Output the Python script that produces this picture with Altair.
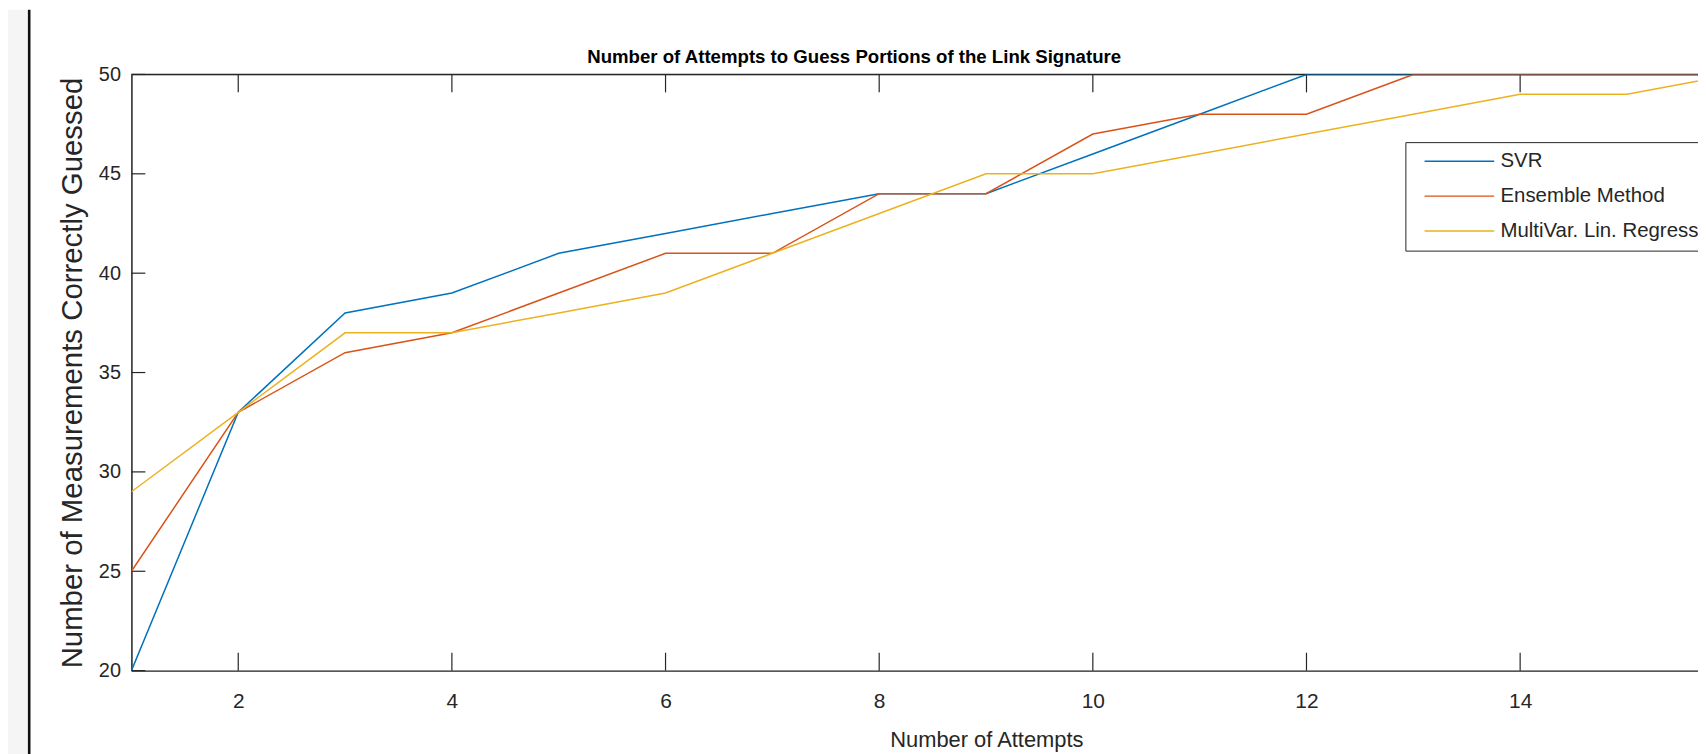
import altair as alt
import pandas as pd

# ---- data ----
attempts = list(range(1, 17))
svr = [20, 33, 38, 39, 41, 42, 43, 44, 44, 46, 48, 50, 50, 50, 50, 50]
ensemble = [25, 33, 36, 37, 39, 41, 41, 44, 44, 47, 48, 48, 50, 50, 50, 50]
mlr = [29, 33, 37, 37, 38, 39, 41, 43, 45, 45, 46, 47, 48, 49, 49, 50]
methods = ["SVR", "Ensemble Method", "MultiVar. Lin. Regression"]
colors = ["#0072BD", "#D95319", "#EDB120"]
x_ticks = [2, 4, 6, 8, 10, 12, 14]
y_ticks = [20, 25, 30, 35, 40, 45, 50]
x_domain = [1, 15.665]
y_domain = [20, 50]

W, H = 1574, 599
AX = "#262626"
FONT = "Liberation Sans"

rows = []
for name, vals in zip(methods, [svr, ensemble, mlr]):
    for a, v in zip(attempts, vals):
        rows.append({"Attempt": a, "Value": v, "Method": name})
df = pd.DataFrame(rows)

xs = alt.Scale(domain=x_domain, nice=False, zero=False)
ys = alt.Scale(domain=y_domain, nice=False, zero=False)

lines = alt.Chart(df).mark_line(strokeWidth=1.5, clip=True).encode(
    x=alt.X("Attempt:Q", scale=xs, axis=alt.Axis(
        values=x_ticks, format="d", ticks=False, tickSize=0, grid=False,
        domainColor=AX, domainWidth=1.5,
        labelFont=FONT, labelFontSize=21, labelColor=AX, labelPadding=20,
        title="Number of Attempts", titleFont=FONT, titleFontSize=22,
        titleFontWeight="normal", titleColor=AX, titleX=859, titleY=76,
        titleAlign="center", titleBaseline="alphabetic")),
    y=alt.Y("Value:Q", scale=ys, axis=alt.Axis(
        values=y_ticks, format="d", ticks=False, tickSize=0, grid=False,
        domainColor=AX, domainWidth=1.5,
        labelFont=FONT, labelFontSize=20, labelColor=AX, labelPadding=11,
        title="Number of Measurements Correctly Guessed", titleFont=FONT,
        titleFontSize=29.5, titleFontWeight="normal", titleColor=AX,
        titleX=-59, titleY=H / 2, titleAngle=270, titleAlign="center",
        titleBaseline="middle")),
    color=alt.Color("Method:N", scale=alt.Scale(domain=methods, range=colors),
                    legend=alt.Legend(
                        title=None, orient="none", legendX=1280, legendY=68,
                        symbolType="M0,0H14", symbolSize=100, symbolStrokeWidth=1.5,
                        labelFont=FONT, labelFontSize=20.5, labelColor=AX,
                        labelOffset=66, labelLimit=500, rowPadding=14, padding=9,
                        strokeColor=AX, fillColor="white")),
)

xt = pd.DataFrame({"Attempt": x_ticks})
yt = pd.DataFrame({"Value": y_ticks})

bottom_ticks = alt.Chart(xt).mark_rule(color=AX, strokeWidth=1.2).encode(
    x=alt.X("Attempt:Q", scale=xs), y=alt.value(H - 18), y2=alt.value(H))
top_ticks = alt.Chart(xt).mark_rule(color=AX, strokeWidth=1.2).encode(
    x=alt.X("Attempt:Q", scale=xs), y=alt.value(0), y2=alt.value(18))
left_ticks = alt.Chart(yt).mark_rule(color=AX, strokeWidth=1.2).encode(
    y=alt.Y("Value:Q", scale=ys), x=alt.value(0), x2=alt.value(14))
top_border = alt.Chart(pd.DataFrame({"Value": [y_domain[1]]})).mark_rule(
    color=AX, strokeWidth=1.5).encode(
    y=alt.Y("Value:Q", scale=ys), x=alt.value(0), x2=alt.value(W))

# page frame on the left of the reference screenshot
frame = pd.DataFrame({"k": [0]})
strip = alt.Chart(frame).mark_rect(color="#f5f5f5").encode(
    x=alt.value(-124), x2=alt.value(-104), y=alt.value(-65), y2=alt.value(H + 84))
edge = alt.Chart(frame).mark_rule(color="#111111", strokeWidth=2.6).encode(
    x=alt.value(-102.7), y=alt.value(-65), y2=alt.value(H + 84))

chart = alt.layer(strip, edge, top_border, bottom_ticks, top_ticks, left_ticks, lines).properties(
    width=W, height=H,
    title=alt.TitleParams("Number of Attempts to Guess Portions of the Link Signature",
                          anchor="start", dx=582, dy=73, fontSize=18.7, font=FONT,
                          fontWeight="bold", color="black", offset=0,
                          baseline="alphabetic"),
    autosize=alt.AutoSizeParams(type="none"),
    padding={"left": 124, "top": 65, "right": 0, "bottom": 82},
).configure_view(stroke=None).configure(background="white")

chart.save("out.html", embed_options={"renderer": "svg", "actions": False})
